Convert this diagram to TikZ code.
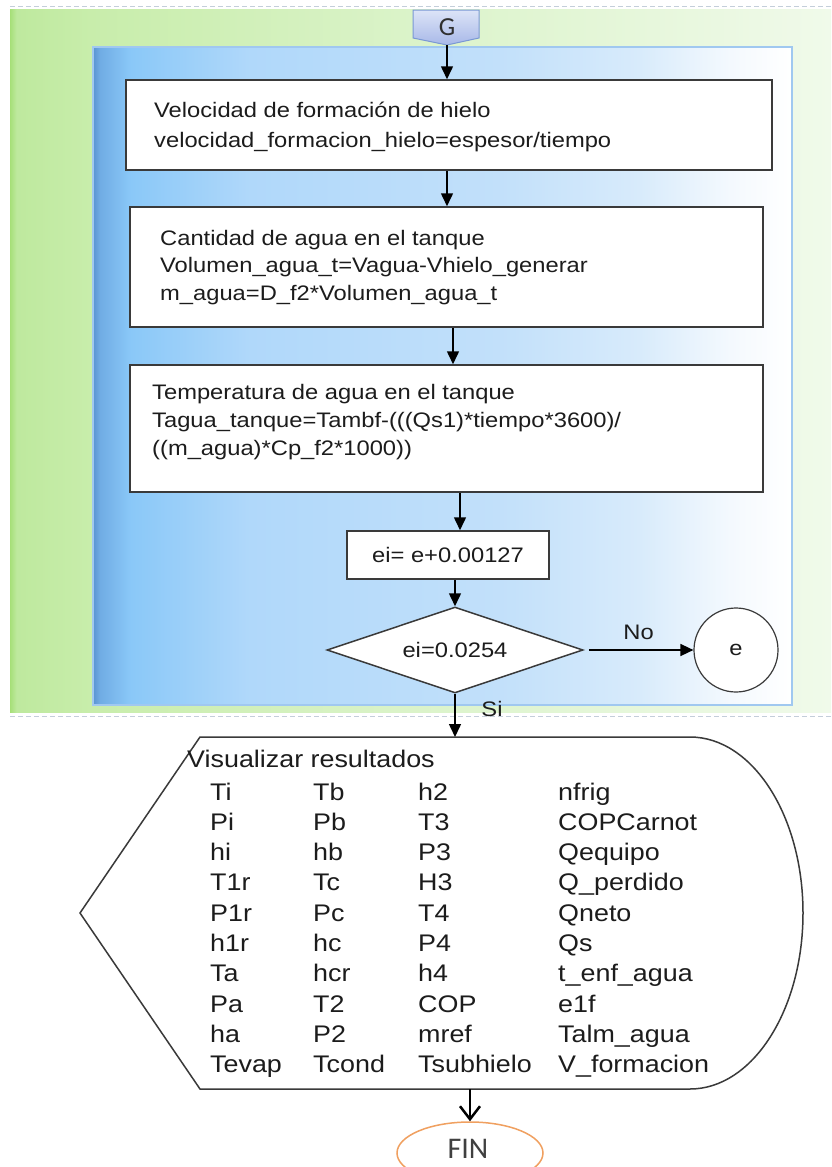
\documentclass[tikz,border=0pt]{standalone}
\usepackage{fontspec}
\setmainfont{Liberation Sans}
\newfontfamily\boxfont[FakeStretch=1.13]{Liberation Sans}
\newfontfamily\listfont[FakeStretch=1.12]{Liberation Sans}
\newfontfamily\calfont{Carlito}
\usetikzlibrary{arrows.meta,shapes.geometric}

% colours
\definecolor{txt}{RGB}{28,28,28}
\definecolor{boxedge}{RGB}{58,58,58}
\definecolor{guidecol}{RGB}{196,206,218}
\definecolor{paneledge}{RGB}{160,200,240}
\definecolor{gedge}{RGB}{122,152,212}
\definecolor{gtop}{RGB}{220,228,247}
\definecolor{gbot}{RGB}{168,184,232}
\definecolor{fincol}{RGB}{240,160,96}
% green band
\definecolor{g0}{RGB}{166,223,120}
\definecolor{g1}{RGB}{190,233,158}
\definecolor{g2}{RGB}{200,237,171}
\definecolor{g3}{RGB}{218,243,200}
\definecolor{g4}{RGB}{240,250,234}
% blue panel
\definecolor{b0}{RGB}{90,148,210}
\definecolor{b1}{RGB}{112,172,228}
\definecolor{b2}{RGB}{138,200,248}
\definecolor{b3}{RGB}{176,216,250}
\definecolor{b4}{RGB}{194,224,250}
\definecolor{b5}{RGB}{216,235,251}
\definecolor{b6}{RGB}{244,249,254}

\pgfdeclarehorizontalshading{greenband}{100bp}{%
  color(0bp)=(g0); color(25bp)=(g0); color(25.4bp)=(g1); color(29.9bp)=(g2);
  color(48.7bp)=(g3); color(75bp)=(g4); color(100bp)=(g4)}
\pgfdeclarehorizontalshading{bluepanel}{100bp}{%
  color(0bp)=(b0); color(25bp)=(b0); color(25.5bp)=(b1); color(27.7bp)=(b2);
  color(36.2bp)=(b3); color(54.1bp)=(b4); color(64.1bp)=(b5); color(70.6bp)=(b6);
  color(75bp)=(white); color(100bp)=(white)}

\begin{document}
\begin{tikzpicture}[x=1pt,y=-1pt,
  flow/.style={line width=1.5pt, draw=black, -{Triangle[length=13pt,width=12pt]}},
  openflow/.style={line width=2.5pt, draw=black, -{Straight Barb[length=13pt,width=20pt]}},
  procbox/.style={draw=boxedge, line width=1.5pt, fill=white, inner sep=0pt},
  decision/.style={diamond, aspect=2.98, draw=boxedge, line width=1.5pt, fill=white, inner sep=0pt,
    font=\boxfont\fontsize{21}{25}\selectfont, text=txt},
  boxtext/.style={anchor=base west, inner sep=0pt, font=\boxfont\fontsize{21}{25}\selectfont, text=txt},
  lbl/.style={inner sep=0pt, font=\boxfont\fontsize{21}{25}\selectfont, text=txt},
  listtext/.style={anchor=base west, inner sep=0pt, font=\listfont\fontsize{24}{28}\selectfont, text=txt},
  guide/.style={draw=guidecol, line width=1pt, dash pattern=on 5pt off 3pt},
]
\path[use as bounding box, fill=white] (0,0) rectangle (831,1167);
\clip (0,0) rectangle (831,1167);

% page guides and background bands
\draw[guide] (10,6) -- (831,6);
\draw[guide] (10,716) -- (831,716);
\shade[shading=greenband] (10,9) rectangle (831,712);
\shade[shading=bluepanel, draw=paneledge, line width=1.2pt] (93,47) rectangle (792,705);

% off-page connector G
\shade[top color=gtop, bottom color=gbot, draw=gedge, line width=1pt]
  (413,10) -- (479,10) -- (479,38) -- (447,45) -- (413,38) -- cycle;
\node[inner sep=0pt, font=\calfont\fontsize{26}{30}\selectfont, text={rgb,255:red,48;green,48;blue,48}] (G) at (447,27) {G};
\coordinate (Gtip) at (447,45);

% process boxes
\node[procbox, minimum width=646pt, minimum height=90pt] (b1) at (449,125) {};
\node[boxtext] (t11) at (154,117) {Velocidad de formación de hielo};
\node[boxtext] (t12) at (154,147) {velocidad\_formacion\_hielo=espesor/tiempo};

\node[procbox, minimum width=633pt, minimum height=120pt] (b2) at (446.5,267) {};
\node[boxtext] (t21) at (160,245) {Cantidad de agua en el tanque};
\node[boxtext] (t22) at (160,272) {Volumen\_agua\_t=Vagua-Vhielo\_generar};
\node[boxtext] (t23) at (160,300) {m\_agua=D\_f2*Volumen\_agua\_t};

\node[procbox, minimum width=633pt, minimum height=127pt] (b3) at (446.5,428.5) {};
\node[boxtext] (t31) at (152,399) {Temperatura de agua en el tanque};
\node[boxtext] (t32) at (152,427) {Tagua\_tanque=Tambf-(((Qs1)*tiempo*3600)/};
\node[boxtext] (t33) at (152,455) {((m\_agua)*Cp\_f2*1000))};

\node[procbox, minimum width=202pt, minimum height=48pt,
  font=\boxfont\fontsize{21}{25}\selectfont, text=txt] (ei) at (448,555) {ei= e+0.00127};

\node[decision, minimum width=256pt, minimum height=86pt] (d) at (455,650) {ei=0.0254};
\node[circle, draw=boxedge, line width=1.2pt, fill=white, minimum size=84pt, inner sep=0pt,
  font=\boxfont\fontsize{21}{25}\selectfont, text=txt] (e) at (736,650) {e};

% display of results
\draw[line width=1.5pt, draw=boxedge, fill=white]
  (200,737) -- (690,737) .. controls (752.4,737) and (803,815.8) .. (803,913)
  .. controls (803,1010.2) and (752.4,1089) .. (690,1089) -- (200,1089) -- (80,913) -- cycle;
\coordinate (disptop) at (458,737);
\coordinate (dispbot) at (470,1089);

\node[listtext] (vis) at (187,767) {Visualizar resultados};
\foreach \a/\b/\c/\d [count=\i from 0] in {
  Ti/Tb/h2/nfrig, Pi/Pb/T3/COPCarnot, hi/hb/P3/Qequipo, T1r/Tc/H3/Q\_perdido,
  P1r/Pc/T4/Qneto, h1r/hc/P4/Qs, Ta/hcr/h4/t\_enf\_agua, Pa/T2/COP/e1f,
  ha/P2/mref/Talm\_agua, Tevap/Tcond/Tsubhielo/V\_formacion} {
  \pgfmathsetmacro\yy{800+30.3*\i}
  \node[listtext] (va\i) at (210,\yy) {\a};
  \node[listtext] (vb\i) at (313,\yy) {\b};
  \node[listtext] (vc\i) at (418,\yy) {\c};
  \node[listtext] (vd\i) at (558,\yy) {\d};
}

% end terminal
\node[ellipse, draw=fincol, line width=1.5pt, fill=white, minimum width=146pt, minimum height=62pt,
  inner sep=0pt] (fin) at (470,1153) {};
\node[inner sep=0pt, font=\calfont\fontsize{30}{34}\selectfont,
  text={rgb,255:red,64;green,64;blue,64}] (fintext) at (468,1149) {FIN};

% connectors
\draw[flow] (Gtip) -- (Gtip |- b1.north);
\draw[flow] (b1.south -| Gtip) -- (b2.north -| Gtip);
\draw[flow] ([xshift=6.5pt]b2.south) -- ([xshift=6.5pt]b3.north);
\draw[flow] ([xshift=13.5pt]b3.south) -- ([xshift=13.5pt]b3.south |- ei.north);
\draw[flow] (d.north |- ei.south) -- (d.north);
\draw[flow, shorten <=5pt] (d.east) -- (e.west) node[lbl, midway, above=10pt] (no) {No};
\draw[flow] (d.south) -- (d.south |- disptop);
\node[lbl] (si) at (492,709) {Si};
\draw[openflow] (dispbot) -- (fin.north);
\end{tikzpicture}
\end{document}
